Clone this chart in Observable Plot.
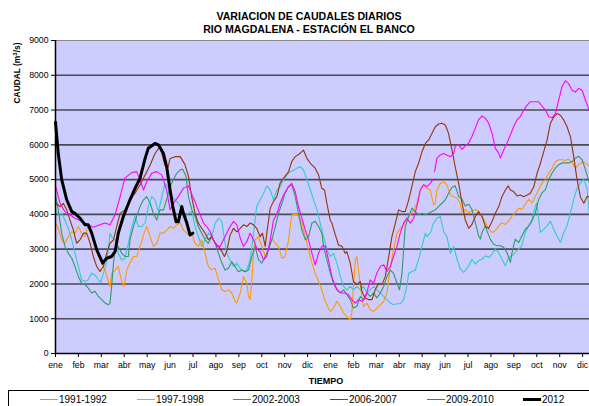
<!DOCTYPE html>
<html><head><meta charset="utf-8">
<script src="https://cdn.jsdelivr.net/npm/d3@7"></script>
<script src="https://cdn.jsdelivr.net/npm/@observablehq/plot@0.6"></script>
<style>
body{margin:0;background:#fff;font-family:Arial,"Liberation Sans",sans-serif;}
#wrap{position:relative;width:589px;height:406px;overflow:hidden;background:#fff;}
#chart{position:absolute;left:0;top:0;}
#title{position:absolute;left:0;top:9.5px;width:618px;text-align:center;font-weight:bold;font-size:10.6px;line-height:13px;color:#000;}
#ylab{position:absolute;left:-33.5px;top:66.5px;width:100px;height:12px;line-height:12px;text-align:center;font-weight:bold;font-size:8.4px;transform:rotate(-90deg);color:#000;white-space:nowrap;}
#ylab span{font-size:6px;position:relative;top:-3px;}
#xlab{position:absolute;left:276px;top:375px;width:100px;text-align:center;font-weight:bold;font-size:9px;line-height:12px;color:#000;}
#legend{position:absolute;left:8px;top:390px;width:640px;height:30px;border:1px solid #000;box-sizing:border-box;}
.sw{position:absolute;width:18px;}
.lt{position:absolute;font-size:10px;line-height:12px;color:#000;white-space:nowrap;}
</style></head><body>
<div id="wrap">
<div id="chart"></div>
<div id="title">VARIACION DE CAUDALES DIARIOS<br>RIO MAGDALENA - ESTACIÓN EL BANCO</div>
<div id="ylab">CAUDAL (m<span>3</span>/s)</div>
<div id="xlab">TIEMPO</div>
<div id="legend"></div>
</div>
<script>
const monthLabels = ["ene","feb","mar","abr","may","jun","jul","ago","sep","oct","nov","dic","ene","feb","mar","abr","may","jun","jul","ago","sep","oct","nov","dic"];
const yTicks = [0,1000,2000,3000,4000,5000,6000,7000,8000,9000];
const gridValues = [1000,2000,3000,4000,5000,6000,7000,8000];
const seriesNames = ["1991-1992","1997-1998","2002-2003","2006-2007","2009-2010","2012"];
const seriesColors = ["#33CCCC","#FF9900","#339966","#993300","#FF00FF","#000000"];
const seriesWidths = [1.1,1.1,1.1,1.1,1.1,3];

// [month since January of first year, caudal m3/s]
const s1991 = [[0,4130],[0.12,3990],[0.27,4030],[0.41,3840],[0.56,3600],[0.71,3270],[0.85,2880],[1.00,2500],[1.14,2120],[1.29,2070],[1.43,2120],[1.58,2310],[1.72,2260],[1.87,2120],[1.97,2040],[2.09,2310],[2.23,2600],[2.38,3460],[2.45,3360],[2.60,3270],[2.74,2880],[2.89,2690],[3.03,2740],[3.18,3170],[3.33,3650],[3.47,3940],[3.62,3650],[3.76,3650],[3.91,3750],[4.05,4230],[4.20,4510],[4.34,4420],[4.49,4080],[4.64,4510],[4.78,4890],[4.93,4750],[5.07,4510],[5.22,4420],[5.36,4320],[5.51,4130],[5.66,3890],[5.80,4030],[5.95,4080],[6.09,3650],[6.23,3360],[6.38,3080],[6.53,3270],[6.67,3460],[6.82,3360],[6.97,3750],[7.11,3890],[7.26,3800],[7.33,3460],[7.47,2880],[7.62,2690],[7.77,2500],[7.91,2600],[8.06,2450],[8.20,2360],[8.35,2400],[8.49,2690],[8.64,3460],[8.78,4230],[8.93,4420],[9.08,4610],[9.22,4820],[9.37,4700],[9.51,4420],[9.66,4700],[9.80,4800],[9.95,5000],[10.09,5130],[10.24,5230],[10.38,5260],[10.53,5330],[10.68,5370],[10.82,5280],[10.97,5000],[11.12,4700],[11.26,4420],[11.41,4130],[11.55,3750],[11.70,3360],[11.84,2980],[11.99,2790],[12.13,2880],[12.28,2600],[12.43,2210],[12.57,1930],[12.71,1830],[12.86,1930],[13.00,1830],[13.15,1930],[13.30,1830],[13.44,1930],[13.59,1740],[13.73,1830],[13.88,1930],[14.02,1830],[14.17,1740],[14.32,1640],[14.46,1550],[14.61,1450],[14.75,1400],[14.90,1430],[15.04,1430],[15.19,1550],[15.33,1930],[15.41,2310],[15.55,2360],[15.70,2400],[15.84,2690],[15.99,3080],[16.14,3460],[16.21,3360],[16.35,3460],[16.50,3750],[16.64,3890],[16.79,3940],[16.94,3500],[17.08,3360],[17.23,2880],[17.37,3080],[17.52,2710],[17.66,2430],[17.81,2330],[18.03,2520],[18.17,2710],[18.32,2570],[18.46,2670],[18.61,2710],[18.76,2810],[18.90,2760],[19.05,2860],[19.19,3000],[19.34,2900],[19.48,2710],[19.63,2520],[19.77,2760],[19.92,2810],[20.06,2900],[20.21,3000],[20.35,3100],[20.50,3480],[20.65,3670],[20.79,3860],[20.94,4240],[21.01,4330],[21.08,3860],[21.16,3480],[21.30,3570],[21.45,3670],[21.59,3810],[21.74,3570],[21.88,3380],[22.03,3190],[22.18,3480],[22.32,3670],[22.47,4050],[22.61,4430],[22.76,4760],[22.90,4900],[23.05,5000],[23.19,4760],[23.30,3950]];

const s1997 = [[0,3750],[0.12,3600],[0.27,3270],[0.41,3170],[0.56,3360],[0.71,3500],[0.85,3460],[1.00,3650],[1.14,3460],[1.29,3360],[1.43,3700],[1.58,3500],[1.72,3170],[1.87,2790],[2.02,2600],[2.16,2400],[2.31,2070],[2.38,1930],[2.45,2310],[2.60,2400],[2.74,2500],[2.89,2070],[2.99,1930],[3.11,2400],[3.25,2600],[3.40,2790],[3.54,2790],[3.69,3080],[3.84,3410],[3.98,3650],[4.13,3360],[4.27,3080],[4.42,3170],[4.56,3460],[4.71,3460],[4.85,3550],[5.00,3650],[5.15,3600],[5.29,3700],[5.44,3750],[5.58,3550],[5.73,3460],[5.87,3360],[5.94,3460],[6.09,3170],[6.23,3080],[6.38,3270],[6.53,2880],[6.67,2500],[6.82,2400],[6.97,2450],[7.11,2120],[7.26,1830],[7.40,1780],[7.55,1830],[7.69,1740],[7.84,1500],[7.91,1450],[8.06,1740],[8.20,2210],[8.35,2020],[8.42,1640],[8.49,1550],[8.57,2120],[8.64,2880],[8.71,3270],[8.86,3360],[9.00,3080],[9.15,2790],[9.29,2980],[9.44,3320],[9.59,3170],[9.73,3080],[9.88,2740],[10.02,2790],[10.17,3270],[10.31,3990],[10.46,4000],[10.60,3990],[10.75,3750],[10.90,3360],[11.04,2980],[11.19,2600],[11.33,2310],[11.48,2070],[11.62,1830],[11.77,1500],[11.91,1300],[11.99,1210],[12.13,1300],[12.28,1500],[12.43,1350],[12.57,1160],[12.71,1070],[12.86,970],[12.93,1160],[13.00,1930],[13.08,2690],[13.15,2790],[13.22,2400],[13.30,1980],[13.37,1640],[13.44,1350],[13.59,1450],[13.73,1260],[13.88,1210],[14.02,1300],[14.17,1400],[14.32,1500],[14.46,1740],[14.61,2500],[14.75,2980],[14.90,3460],[15.04,3600],[15.19,3700],[15.33,3890],[15.48,3990],[15.63,4130],[15.77,4320],[15.92,4700],[16.06,4850],[16.21,4750],[16.35,4700],[16.50,4270],[16.57,4320],[16.64,4700],[16.79,4890],[16.94,4940],[17.08,4850],[17.23,4560],[17.37,4510],[17.52,4470],[17.66,4320],[17.74,4030],[17.88,4140],[18.03,4050],[18.17,4100],[18.32,4140],[18.46,4090],[18.61,3940],[18.76,3760],[18.90,3570],[19.05,3480],[19.19,3530],[19.34,3670],[19.48,3760],[19.63,3710],[19.77,3810],[19.92,3950],[20.06,4050],[20.21,4180],[20.35,4140],[20.50,4290],[20.65,4430],[20.79,4330],[20.94,4520],[21.08,4710],[21.23,4900],[21.38,5000],[21.52,5190],[21.67,5330],[21.81,5520],[21.96,5570],[22.10,5570],[22.25,5550],[22.39,5590],[22.54,5480],[22.69,5330],[22.83,5430],[22.98,5500],[23.12,5480],[23.30,5380]];

const s2002 = [[0,4560],[0.12,4130],[0.27,3460],[0.41,3080],[0.56,2880],[0.71,2740],[0.85,2500],[1.00,2210],[1.14,2020],[1.29,1980],[1.43,1880],[1.58,1740],[1.72,1790],[1.87,1640],[2.02,1550],[2.16,1450],[2.31,1400],[2.38,1450],[2.45,1930],[2.53,2600],[2.60,2980],[2.74,3080],[2.89,2880],[3.03,2790],[3.18,2790],[3.25,3270],[3.40,3650],[3.54,3940],[3.69,4230],[3.84,4420],[3.98,4510],[4.13,4320],[4.27,4030],[4.42,3840],[4.56,4130],[4.71,4130],[4.85,4420],[5.00,4800],[5.15,5000],[5.29,5180],[5.44,5280],[5.55,5300],[5.70,5090],[5.80,4510],[5.95,4130],[6.09,3940],[6.23,3650],[6.38,3460],[6.53,3270],[6.67,3170],[6.82,3360],[6.97,3170],[7.11,2880],[7.26,2600],[7.40,2400],[7.55,2450],[7.69,2640],[7.84,2500],[7.98,2350],[8.13,2400],[8.28,2350],[8.42,2400],[8.57,2790],[8.71,3080],[8.86,2690],[9.00,2600],[9.15,2790],[9.29,2980],[9.44,3270],[9.59,3650],[9.73,4030],[9.88,4320],[10.02,4610],[10.17,4800],[10.31,4850],[10.46,4510],[10.60,4030],[10.75,3550],[10.90,3270],[11.04,3360],[11.19,3750],[11.33,3800],[11.48,3650],[11.62,3460],[11.70,3080],[11.84,2690],[11.99,2310],[12.13,2020],[12.28,1830],[12.43,1740],[12.57,1830],[12.71,1690],[12.86,1550],[13.00,1310],[13.15,1360],[13.30,1640],[13.44,1550],[13.59,1740],[13.73,1640],[13.88,1740],[14.02,1600],[14.17,1740],[14.32,1930],[14.46,2210],[14.61,2400],[14.75,2310],[14.90,2020],[15.01,1830],[15.12,2310],[15.19,2980],[15.26,3650],[15.41,3940],[15.55,4180],[15.70,4080],[15.84,3990],[15.99,4030],[16.14,3990],[16.28,4030],[16.43,4080],[16.57,4130],[16.72,4230],[16.86,4320],[17.01,4420],[17.15,4610],[17.30,4780],[17.44,4820],[17.59,4520],[17.74,4430],[17.88,4240],[18.03,4290],[18.17,4140],[18.32,3760],[18.46,3380],[18.54,3290],[18.61,3480],[18.76,3670],[18.83,3520],[18.97,3290],[19.12,3140],[19.26,3100],[19.41,3100],[19.56,3050],[19.70,2900],[19.85,2620],[19.92,2900],[20.06,3290],[20.21,3190],[20.35,3380],[20.50,3570],[20.65,3670],[20.79,3810],[20.94,4050],[21.08,4430],[21.23,4620],[21.38,4710],[21.52,5000],[21.67,5190],[21.81,5330],[21.96,5430],[22.10,5480],[22.25,5480],[22.39,5480],[22.54,5520],[22.69,5620],[22.83,5670],[22.98,5570],[23.12,5290],[23.30,4900]];

const s2006 = [[0,4320],[0.20,4225],[0.34,4320],[0.49,4130],[0.63,3840],[0.78,3550],[0.92,3170],[1.07,3270],[1.22,3460],[1.36,3460],[1.51,3170],[1.65,2790],[1.80,2500],[1.94,2360],[2.09,2500],[2.23,2880],[2.38,3170],[2.53,3270],[2.67,3650],[2.82,4030],[3.03,4130],[3.25,4420],[3.47,4610],[3.69,4850],[3.91,5130],[4.13,5420],[4.34,5750],[4.56,5950],[4.78,5400],[4.91,5350],[5.00,5610],[5.22,5660],[5.44,5660],[5.65,5430],[5.80,5100],[5.94,4510],[6.09,4030],[6.23,3750],[6.38,3600],[6.53,3460],[6.67,3270],[6.82,3360],[6.97,3170],[7.11,3080],[7.26,2930],[7.37,2790],[7.47,2930],[7.62,3410],[7.77,3600],[7.91,3500],[8.06,3600],[8.20,3700],[8.35,3650],[8.49,3750],[8.64,3700],[8.78,3600],[8.93,3360],[9.03,3460],[9.15,3080],[9.22,3460],[9.37,4180],[9.51,4370],[9.66,4510],[9.80,4900],[9.95,5040],[10.17,5230],[10.31,5520],[10.46,5660],[10.68,5760],[10.82,5850],[10.97,5610],[11.12,5470],[11.33,5330],[11.48,5130],[11.62,4750],[11.74,4700],[11.84,4320],[11.99,3830],[12.06,3750],[12.21,3410],[12.35,3120],[12.50,3080],[12.64,2880],[12.71,2930],[12.86,2600],[13.00,2070],[13.15,1980],[13.30,2070],[13.37,1780],[13.52,1590],[13.66,1550],[13.81,1550],[13.95,1830],[14.10,2020],[14.24,1980],[14.39,2210],[14.54,2790],[14.68,3360],[14.83,3750],[14.97,4130],[15.12,4080],[15.26,4080],[15.41,4420],[15.55,4800],[15.70,5230],[15.84,5470],[15.99,5800],[16.14,6040],[16.28,6140],[16.43,6330],[16.57,6520],[16.72,6600],[16.86,6620],[17.01,6570],[17.15,6330],[17.30,5850],[17.44,5370],[17.59,4890],[17.74,4320],[17.88,3840],[18.03,3600],[18.17,3710],[18.32,3940],[18.46,4080],[18.61,3940],[18.76,3650],[18.90,3600],[19.05,3800],[19.19,4030],[19.34,4225],[19.48,4510],[19.63,4700],[19.75,4820],[19.85,4700],[19.99,4655],[20.14,4530],[20.28,4560],[20.43,4510],[20.58,4560],[20.72,4610],[20.87,4800],[21.01,5180],[21.16,5470],[21.30,5800],[21.45,6135],[21.59,6610],[21.74,6800],[21.88,6900],[22.03,6850],[22.18,6710],[22.32,6520],[22.47,6230],[22.61,5660],[22.76,4990],[22.90,4510],[23.05,4320],[23.19,4510],[23.30,4510]];

const s2009 = [[0,4820],[0.20,4320],[0.41,4080],[0.63,3990],[0.85,3890],[1.14,3800],[1.43,3700],[1.65,3630],[1.94,3700],[2.16,3750],[2.38,3700],[2.60,3990],[2.82,4510],[3.03,5050],[3.33,5200],[3.54,5230],[3.69,5000],[3.84,4700],[3.98,4940],[4.20,5180],[4.42,5230],[4.64,5130],[4.85,4700],[5.00,4130],[5.15,4320],[5.36,4510],[5.58,4750],[5.80,4820],[5.99,4510],[6.09,4370],[6.16,4230],[6.31,3990],[6.46,3750],[6.60,3650],[6.75,3500],[6.89,3270],[7.04,3080],[7.18,3080],[7.33,3270],[7.47,3460],[7.62,3650],[7.77,3800],[7.91,3700],[8.06,3320],[8.20,3080],[8.35,3220],[8.49,3460],[8.64,3270],[8.78,3020],[8.93,2930],[9.08,2690],[9.22,2790],[9.37,3270],[9.51,3830],[9.66,4020],[9.80,4320],[9.95,4560],[10.17,4800],[10.31,4890],[10.46,4660],[10.60,4230],[10.75,3890],[10.90,3550],[11.04,3270],[11.19,2880],[11.33,2550],[11.48,2880],[11.62,3080],[11.77,3100],[11.91,2690],[12.06,2210],[12.21,1930],[12.35,1780],[12.50,1740],[12.64,1740],[12.79,1690],[12.93,1550],[13.08,1450],[13.22,1550],[13.37,1500],[13.52,1590],[13.73,2120],[13.88,2020],[14.02,2310],[14.17,2500],[14.32,2550],[14.46,2360],[14.61,2500],[14.75,2790],[14.90,3080],[15.04,3460],[15.19,3750],[15.33,3890],[15.48,3750],[15.63,3890],[15.77,4230],[15.92,4700],[16.06,4850],[16.21,4800],[16.35,4890],[16.47,5000],[16.50,NaN],[16.54,5230],[16.64,5610],[16.79,5710],[16.94,5750],[17.08,5700],[17.23,5660],[17.37,5750],[17.45,5970],[17.59,6000],[17.74,5870],[17.88,5970],[18.03,6050],[18.17,6240],[18.32,6480],[18.46,6720],[18.61,6830],[18.76,6760],[18.90,6620],[19.05,6330],[19.19,5900],[19.34,5760],[19.41,5620],[19.56,5860],[19.70,6050],[19.85,6290],[19.99,6520],[20.14,6720],[20.28,6810],[20.43,7000],[20.58,7140],[20.72,7240],[20.94,7240],[21.08,7240],[21.23,7110],[21.38,7000],[21.52,6810],[21.67,6780],[21.81,6900],[21.96,7290],[22.10,7670],[22.25,7840],[22.39,7760],[22.54,7570],[22.69,7520],[22.83,7620],[22.98,7570],[23.12,7290],[23.30,6980]];

const s2012 = [[0,6650],[0.12,5750],[0.27,5000],[0.49,4420],[0.71,4080],[0.85,4030],[1.07,3890],[1.29,3700],[1.43,3700],[1.58,3460],[1.80,2980],[2.06,2600],[2.23,2740],[2.45,2790],[2.60,2930],[2.74,3460],[2.96,3940],[3.25,4420],[3.47,4750],[3.69,5040],[3.91,5610],[4.05,5900],[4.34,6040],[4.49,6000],[4.71,5750],[4.85,5370],[5.00,4700],[5.12,4225],[5.26,3790],[5.36,3790],[5.51,4225],[5.58,4030],[5.73,3750],[5.87,3410],[5.99,3460]];

const allSeries = [s1991, s1997, s2002, s2006, s2009, s2012];

const lineMarks = allSeries.map((s, i) =>
  Plot.line(s.map(([m, v]) => ({m, v})), {x: "m", y: "v", stroke: seriesColors[i], strokeWidth: seriesWidths[i], strokeLinejoin: "round"})
);

const chart = Plot.plot({
  width: 589,
  height: 380,
  marginTop: 40,
  marginBottom: 27,
  marginLeft: 55,
  marginRight: 0,
  style: {fontFamily: "Arial, 'Liberation Sans', sans-serif", fontSize: "8.7px", background: "none", color: "#000", overflow: "visible"},
  x: {domain: [0, 23.3]},
  y: {domain: [0, 9000]},
  marks: [
    Plot.frame({fill: "#CCCCFF", stroke: null}),
    Plot.ruleY(gridValues, {stroke: "#4a4a55", strokeWidth: 1.6}),
    Plot.ruleY([9000], {stroke: "#888", strokeWidth: 1}),
    ...lineMarks,
    Plot.axisX({ticks: d3.range(monthLabels.length), tickFormat: i => monthLabels[i], tickSize: 4, tickPadding: 4, label: null}),
    Plot.axisY({ticks: yTicks, tickFormat: d => String(d), tickSize: 4, tickPadding: 3, label: null}),
    Plot.ruleX([0], {stroke: "#000", strokeWidth: 1.5}),
    Plot.ruleY([0], {stroke: "#000", strokeWidth: 1.5})
  ]
});
document.getElementById("chart").appendChild(chart);

// legend
const legend = document.getElementById("legend");
const swLeft = [31, 128, 224, 321, 418, 514];
seriesNames.forEach((name, i) => {
  const h = i === 5 ? 3 : 1.6;
  const sw = document.createElement("div");
  sw.className = "sw";
  sw.style.left = swLeft[i] + "px";
  sw.style.top = (8.5 - h / 2) + "px";
  sw.style.height = h + "px";
  sw.style.background = seriesColors[i];
  legend.appendChild(sw);
  const t = document.createElement("div");
  t.className = "lt";
  t.style.left = (swLeft[i] + 19) + "px";
  t.style.top = "2.5px";
  t.textContent = name;
  legend.appendChild(t);
});
</script>
</body></html>
